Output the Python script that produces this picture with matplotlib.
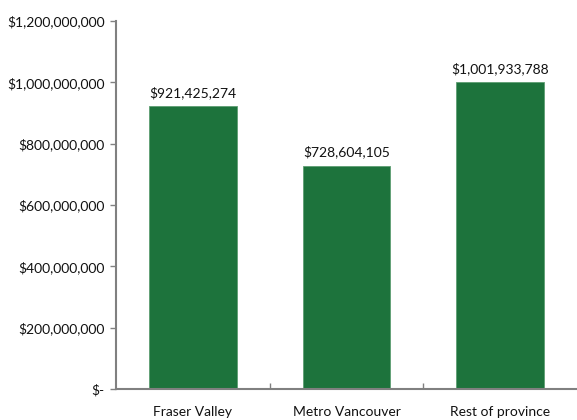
import matplotlib.pyplot as plt
from matplotlib.ticker import FuncFormatter
import numpy as np

regions = ["Fraser Valley", "Metro Vancouver", "Rest of province"]
amounts = [921425274, 728604105, 1001933788]

plt.rcParams['font.family'] = ['Lato', 'DejaVu Sans']

fig = plt.figure(figsize=(5.77, 4.20), dpi=100)
ax = fig.add_axes([116 / 577, 31 / 420, 461 / 577, 368 / 420])

x = np.arange(len(regions))
bars = ax.bar(x, amounts, width=0.57, color='#1D733C', edgecolor='#5E9E72', linewidth=0.6, zorder=2)

for b, v in zip(bars, amounts):
    ax.annotate("${:,.0f}".format(v), (b.get_x() + b.get_width() / 2, v),
                xytext=(0, 5), textcoords='offset points',
                ha='center', va='bottom', fontsize=10, color='#111111')

ax.set_xlim(-0.5, 2.5)
ax.set_ylim(0, 1.2e9)
ax.set_yticks(np.arange(0, 1.2e9 + 1, 2e8))


def money(v, pos):
    if v == 0:
        return "$-"
    return "${:,.0f}".format(v)


ax.yaxis.set_major_formatter(FuncFormatter(money))

# category boundaries as major ticks, names on minor ticks
ax.set_xticks([0.5, 1.5])
ax.set_xticklabels([])
ax.set_xticks(x, minor=True)
ax.set_xticklabels(regions, minor=True)
ax.tick_params(axis='x', which='major', direction='in', length=4, width=1, color='#808080')
ax.tick_params(axis='x', which='minor', length=0, pad=12, labelsize=10, labelcolor='#111111')
ax.tick_params(axis='y', direction='out', length=4, width=1, color='#808080',
               labelsize=10, labelcolor='#111111', pad=4)

for s in ['top', 'right']:
    ax.spines[s].set_visible(False)
for s in ['left', 'bottom']:
    ax.spines[s].set_color('#808080')
    ax.spines[s].set_linewidth(1.5)

plt.savefig("out.png", dpi=100)
